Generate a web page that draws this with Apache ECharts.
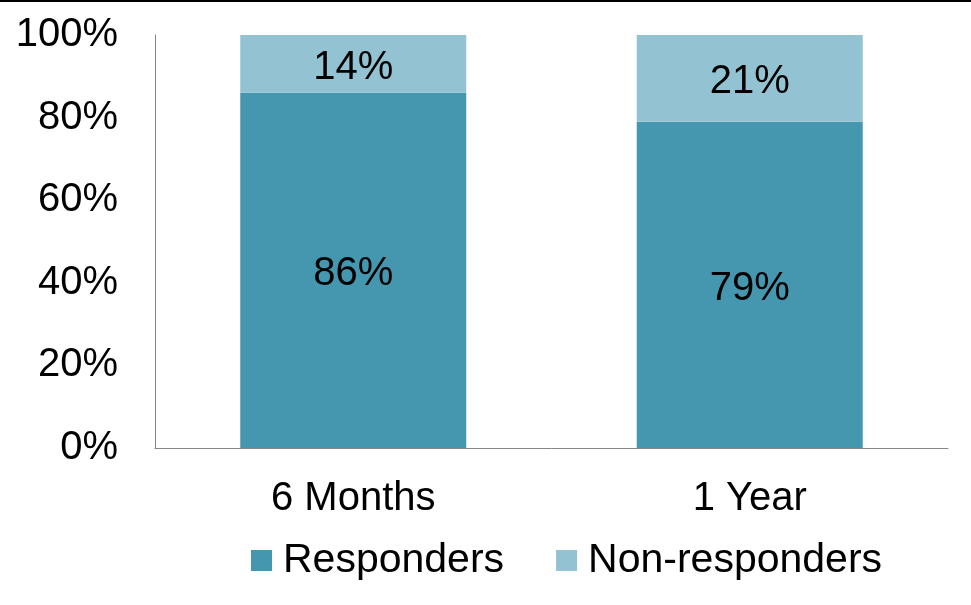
<!DOCTYPE html>
<html>
<head>
<meta charset="utf-8">
<script src="https://cdn.jsdelivr.net/npm/echarts@6/dist/echarts.min.js"></script>
<style>
  html, body { margin: 0; padding: 0; background: #fff; }
  #wrap { position: relative; width: 971px; height: 605px; }
  #topline { position: absolute; left: 0; top: 0; width: 971px; height: 2px; background: #000; z-index: 2; }
  #chart { position: absolute; left: 0; top: 0; width: 971px; height: 605px; }
</style>
</head>
<body>
<div id="wrap"><div id="topline"></div><div id="chart"></div></div>
<script>
const categories = ['6 Months', '1 Year'];
const responders = [86, 79];
const nonResponders = [14, 21];
const seriesNames = ['Responders', 'Non-responders'];
const yTicks = [0, 20, 40, 60, 80, 100];

const FONT = 'Liberation Sans, Arial, sans-serif';
const chart = echarts.init(document.getElementById('chart'));
chart.setOption({
  animation: false,
  color: ['#4497AF', '#93C3D3'],
  textStyle: { fontFamily: FONT },
  grid: { left: 155, right: 23, top: 35, bottom: 157, containLabel: false },
  legend: {
    left: 246, top: 535,
    itemWidth: 21, itemHeight: 21, itemGap: 52,
    icon: 'rect',
    data: seriesNames,
    textStyle: { fontSize: 41, color: '#000', fontFamily: FONT, lineHeight: 41, padding: [0, 0, 0, 6] }
  },
  xAxis: {
    type: 'category',
    data: categories,
    axisLine: { lineStyle: { color: '#868686', width: 1 } },
    axisTick: { show: false },
    axisLabel: { fontSize: 40, color: '#000', fontFamily: FONT, margin: 31, lineHeight: 40 }
  },
  yAxis: {
    type: 'value',
    min: yTicks[0], max: yTicks[yTicks.length - 1], interval: 20,
    axisLine: { show: true, lineStyle: { color: '#868686', width: 1 } },
    axisTick: { show: false },
    splitLine: { show: false },
    axisLabel: { fontSize: 40, color: '#000', fontFamily: FONT, margin: 37, formatter: '{value}%' }
  },
  series: [
    {
      name: seriesNames[0], type: 'bar', stack: 'total', data: responders,
      barWidth: '57%',
      label: { show: true, position: 'inside', offset: [0, 4], formatter: '{c}%', fontSize: 40, color: '#000', fontFamily: FONT }
    },
    {
      name: seriesNames[1], type: 'bar', stack: 'total', data: nonResponders,
      barWidth: '57%',
      label: { show: true, position: 'inside', offset: [0, 4], formatter: '{c}%', fontSize: 40, color: '#000', fontFamily: FONT }
    }
  ]
});
</script>
</body>
</html>
